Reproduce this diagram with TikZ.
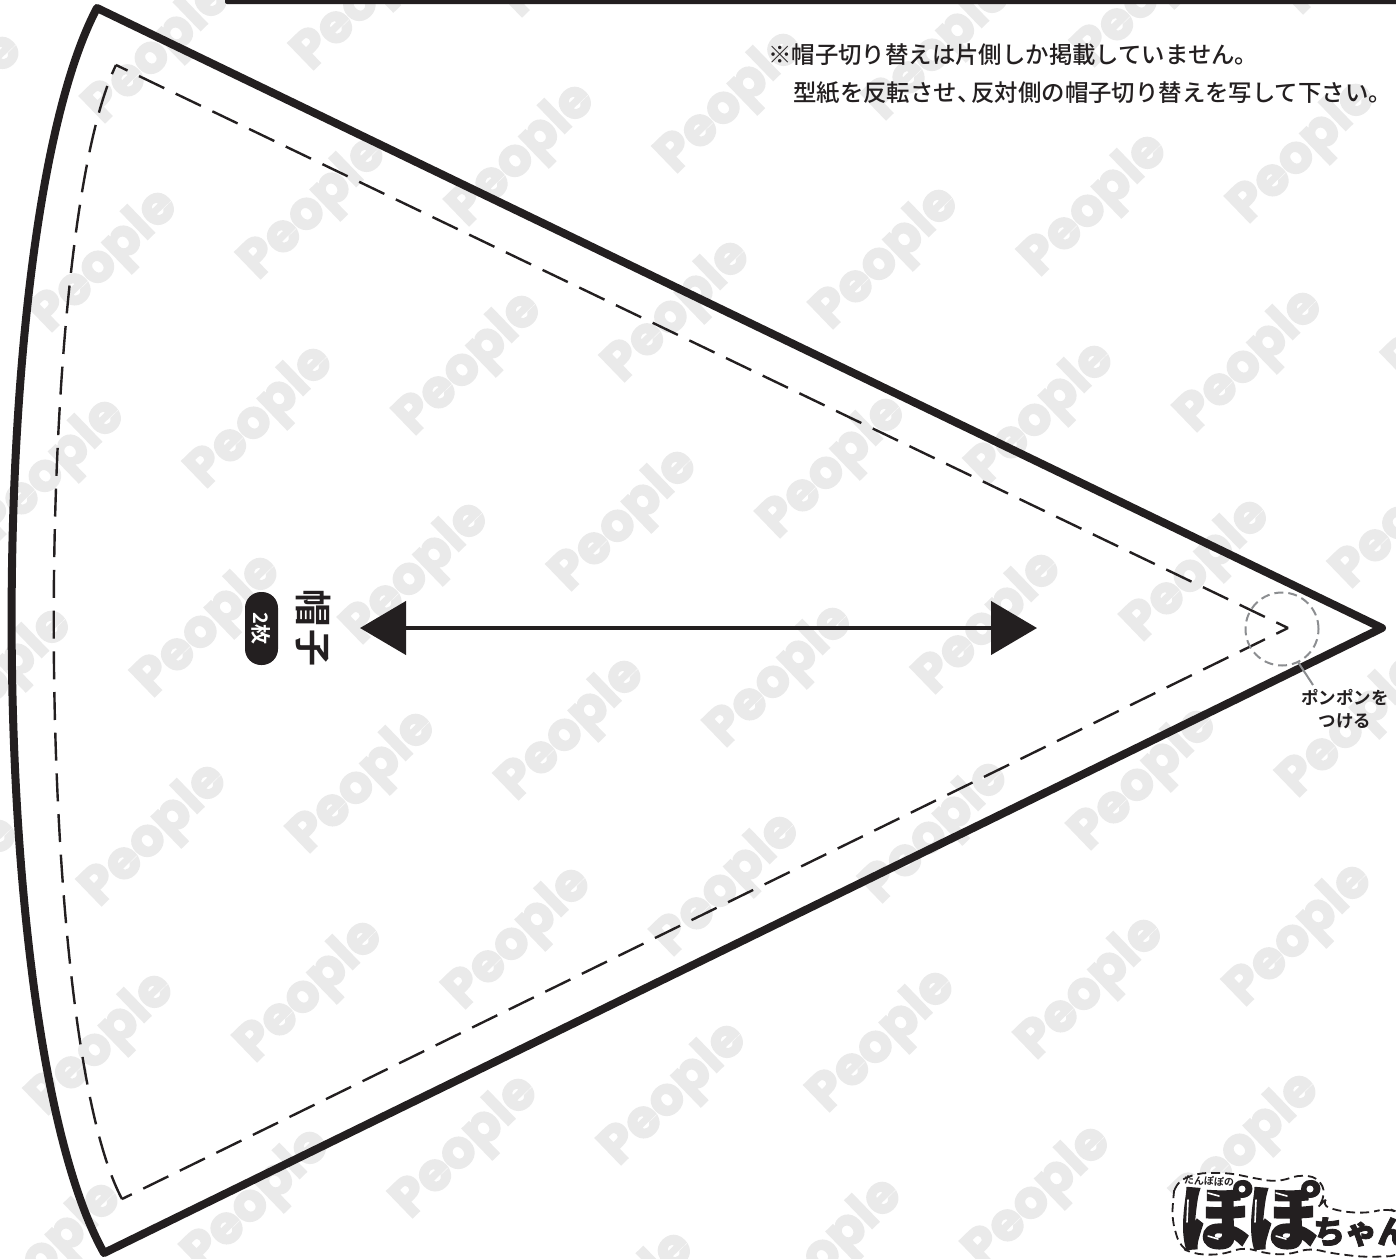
\documentclass[tikz,border=0pt]{standalone}
\usepackage{fontspec}
\usetikzlibrary{arrows.meta}
\setmainfont{Noto Sans CJK JP}
\newfontfamily\jpfont{Noto Sans CJK JP}[UprightFont=* Medium,BoldFont=* Bold]
\newfontfamily\logofont{Noto Sans CJK JP}[UprightFont=* Black,FakeBold=2.5]
\newfontfamily\markfont{Poppins}[UprightFont=* Bold,FakeBold=4]
\definecolor{inkblack}{RGB}{35, 31, 32}
\definecolor{markgray}{RGB}{234, 234, 234}
\definecolor{circlegray}{RGB}{140, 142, 145}
\tikzset{
	capline/.style={draw=inkblack, line width=8pt, line join=round},
	sewline/.style={draw=inkblack, line width=2.4pt, dash pattern=on 28pt off 12.7pt, dash phase=15pt},
	grainline/.style={draw=inkblack, line width=4.5pt, {Triangle[length=46pt,width=53pt]}-{Triangle[length=46pt,width=53pt]}},
	watermark/.style={text=markgray, font=\markfont\fontsize{52}{52}\selectfont, rotate=44},
	notetext/.style={anchor=west, inner sep=0pt, text=inkblack, font=\jpfont\fontsize{23.4}{23.4}\selectfont},
	pomlabel/.style={inner sep=0pt, text=inkblack, font=\jpfont\bfseries\fontsize{17.5}{17.5}\selectfont},
	logotext/.style={inner sep=0pt, text=inkblack, font=\logofont\fontsize{72}{72}\selectfont},
	shine/.style={draw=white, line width=1.6pt, line cap=round}
}

\begin{document}
\begin{tikzpicture}[x=1pt, y=-1pt]
	\useasboundingbox (0, 0) rectangle (1396, 1258);
	\begin{scope}
		\clip (0, 0) rectangle (1396, 1258);
		% watermark lattice
		\foreach \i in {-3, ..., 5} {
			\foreach \j in {-3, ..., 5} {
				\node[watermark] (mark\i\j) at ({470 + 208.5*\i - 53*\j}, {365 - 53*\i + 209*\j}) {People};
			}
		}
		% logo
		\filldraw [fill=white, draw=inkblack, line width=1.8pt, dash pattern=on 9pt off 5pt, rounded corners=10pt]
			(1175, 1183) -- (1197, 1173) -- (1230, 1173) -- (1253, 1178) -- (1277, 1182) -- (1303, 1174) -- (1322, 1180) -- (1325, 1200)
			-- (1320, 1205) -- (1343, 1212) -- (1370, 1213) -- (1387, 1208) -- (1400, 1213) -- (1400, 1256) -- (1363, 1257) -- (1330, 1253)
			-- (1310, 1248) -- (1287, 1255) -- (1263, 1253) -- (1245, 1247) -- (1220, 1255) -- (1193, 1254) -- (1180, 1247) -- (1172, 1220) -- (1173, 1200) -- cycle;
		\node[logotext] (logopo1) at (1216, 1215) {ぽ};
		\node[logotext] (logopo2) at (1284, 1215) {ぽ};
		\foreach \dx in {0, 68} {
			\draw [shine] (1188+\dx, 1200) -- (1187+\dx, 1222);
			\draw [shine] (1208+\dx, 1193) -- (1219+\dx, 1196);
			\draw [shine] (1208+\dx, 1236) -- (1218+\dx, 1239);
			\fill [inkblack] (1242+\dx, 1189) circle (9);
			\fill [white] (1242+\dx, 1189) circle (3.5);
		}
		\node[logotext, font=\logofont\fontsize{32}{32}\selectfont, anchor=west] (logochan) at (1313, 1232) {ちゃん};
		\node[inner sep=0pt, text=inkblack, font=\jpfont\bfseries\fontsize{10}{10}\selectfont, rotate=-3] (logotop) at (1209, 1181) {たんぽぽの};
	\end{scope}
	% top bar
	\fill [inkblack, rounded corners=2pt] (225, -6) rectangle (1400, 4);
	% pattern outlines
	\coordinate (tl) at (97, 8);
	\coordinate (bl) at (104, 1253);
	\coordinate (tip) at (1382, 628);
	\draw [capline] (tip) -- (tl) .. controls (-18, 225) and (-18, 1035) .. (bl) -- cycle;
	\coordinate (sewtl) at (116, 65);
	\coordinate (sewbl) at (122, 1199);
	\coordinate (sewtip) at (1288, 628);
	\draw [sewline] (sewtip) -- (sewtl);
	\draw [sewline] (sewtip) -- (sewbl);
	\draw [sewline, dash phase=18pt] (sewtl) .. controls (32, 240) and (32, 1030) .. (sewbl);
	% grain arrow
	\coordinate (grainl) at (360, 628);
	\coordinate (grainr) at (1037, 628);
	\draw [grainline] (grainl) -- (grainr);
	% labels
	\node[inner sep=0pt, rotate=-90, text=inkblack, font=\jpfont\bfseries\fontsize{37}{37}\selectfont] (capname) at (313, 628) {帽\kern3pt 子};
	\node[fill=inkblack, rounded corners=16pt, minimum width=73pt, minimum height=33pt, inner sep=0pt, rotate=-90, text=white, font=\jpfont\bfseries\fontsize{20}{20}\selectfont] (capcount) at (261.5, 628.5) {2枚};
	\node[notetext] (note1) at (768, 55) {※帽子切り替えは片側しか掲載していません。};
	\node[notetext] (note2) at (793, 93) {型紙を反転させ、\kern-9pt 反対側の帽子切り替えを写して下さい。};
	% pompon mark
	\node[circle, draw=circlegray, line width=2pt, dash pattern=on 9pt off 5pt, minimum size=73pt, inner sep=0pt] (pomcircle) at (1282, 629) {};
	\node[pomlabel] (pomlabel1) at (1345, 697) {ポンポンを};
	\node[pomlabel] (pomlabel2) at (1345, 721) {つける};
	\coordinate (pomend) at (1313, 685);
	\draw [circlegray, line width=2pt] (pomcircle.-64) -- (pomend);
\end{tikzpicture}
\end{document}
